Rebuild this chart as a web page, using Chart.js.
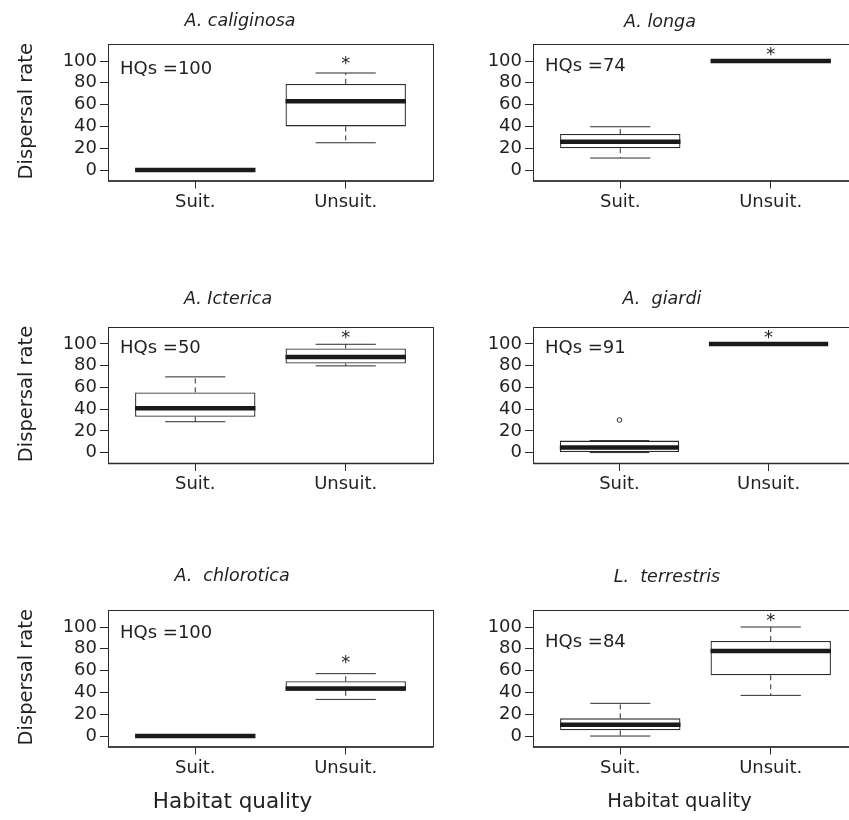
<!DOCTYPE html>
<html>
<head>
<meta charset="utf-8">
<script src="https://cdn.jsdelivr.net/npm/chart.js@4"></script>
<style>
  html, body { margin: 0; padding: 0; background: #fff; overflow: hidden; width: 849px; height: 820px; }
  canvas { position: absolute; }
</style>
</head>
<body>
<script>
// ---- data ----
const species = ["A. caliginosa", "A. longa", "A. Icterica", "A.  giardi", "A.  chlorotica", "L.  terrestris"];
const categories = ["Suit.", "Unsuit."];
const yTicks = [0, 20, 40, 60, 80, 100];
const hqs = [100, 74, 50, 91, 100, 84];
// per panel: [Suit., Unsuit.]
const lowWhisker  = [[0, 25], [11, 100], [28.4, 79.8], [0, 100], [0, 33.6], [0, 37.3]];
const lowerQ      = [[0, 40], [20, 100], [33, 82],     [0, 100], [0, 41.5], [5.2, 55.7]];
const median      = [[0, 63], [26, 100], [40.7, 88],   [4.6, 100], [0, 43.5], [10.4, 78]];
const upperQ      = [[0, 79], [33, 100], [55.4, 95.8], [11, 100], [0, 50.2], [16.2, 87.2]];
const highWhisker = [[0, 89], [39.7, 100], [69.7, 99.7], [11, 100], [0, 57.2], [30, 100]];
const outliers    = [[[], []], [[], []], [[], []], [[30], []], [[], []], [[], []]];
const starY = [100.2, 108, 108.3, 108.3, 69.3, 108.4];
const hqsY  = [93, 95.7, 97.2, 96.7, 94.7, 86.5];

// ---- layout ----
const rowTop = [0, 275, 550], rowHeight = [275, 275, 270];
const areaTop = [44, 327, 610], areaBottom = [180.5, 463, 746.5];
const colLeft = [0, 440], colWidth = [440, 420];
const areaLeft = [108, 533], areaRight = [433, 858];
const titleX = [240, 660, 228, 662, 232, 667];
const titleY = [21, 22, 299.5, 299.5, 576, 577];
const xTitleX = [232.5, 679.5], xTitleSize = [21.5, 19.5];
const yAxisW = 60, xAxisH = 40;
const ink = "#231f20", lineCol = "#2b2b2b";

Chart.defaults.font.family = "'DejaVu Sans', sans-serif";
Chart.defaults.color = ink;

function panelPlugin(p, row, col) {
  return {
    id: "panel" + p,
    afterDatasetsDraw(chart) {
      const ctx = chart.ctx, xs = chart.scales.x, ys = chart.scales.y;
      const half = (xs.getPixelForValue(1.4) - xs.getPixelForValue(1));
      ctx.save();
      for (let i = 0; i < categories.length; i++) {
        const x = xs.getPixelForValue(i + 1);
        const yq1 = ys.getPixelForValue(lowerQ[p][i]), yq3 = ys.getPixelForValue(upperQ[p][i]);
        const ylo = ys.getPixelForValue(lowWhisker[p][i]), yhi = ys.getPixelForValue(highWhisker[p][i]);
        // whiskers (dashed)
        ctx.strokeStyle = lineCol;
        ctx.lineWidth = 1;
        ctx.setLineDash([5, 4]);
        ctx.beginPath();
        ctx.moveTo(x, yq3); ctx.lineTo(x, yhi);
        ctx.moveTo(x, yq1); ctx.lineTo(x, ylo);
        ctx.stroke();
        ctx.setLineDash([]);
        // staples
        ctx.beginPath();
        ctx.moveTo(x - half / 2, yhi); ctx.lineTo(x + half / 2, yhi);
        ctx.moveTo(x - half / 2, ylo); ctx.lineTo(x + half / 2, ylo);
        ctx.stroke();
        // median
        const ym = ys.getPixelForValue(median[p][i]);
        ctx.strokeStyle = "#1a1a1a";
        ctx.lineWidth = 4.5;
        ctx.beginPath();
        ctx.moveTo(x - half, ym); ctx.lineTo(x + half, ym);
        ctx.stroke();
      }
      // significance star
      ctx.fillStyle = ink;
      ctx.font = "18px 'DejaVu Sans'";
      ctx.textAlign = "center";
      ctx.textBaseline = "alphabetic";
      ctx.fillText("*", xs.getPixelForValue(2), ys.getPixelForValue(starY[p]) + 8);
      // HQs label
      ctx.textAlign = "left";
      ctx.textBaseline = "middle";
      ctx.fillText("HQs =" + hqs[p], xs.getPixelForValue(0.5), ys.getPixelForValue(hqsY[p]) + 1);
      ctx.restore();
    },
    afterDraw(chart) {
      const ctx = chart.ctx, a = chart.chartArea;
      ctx.save();
      ctx.strokeStyle = lineCol;
      ctx.lineWidth = 1;
      ctx.strokeRect(a.left + 0.5, a.top + 0.5, a.right - a.left, a.bottom - a.top);
      ctx.lineWidth = 1.5;
      ctx.beginPath();
      ctx.moveTo(a.left, a.bottom + 0.5); ctx.lineTo(a.right, a.bottom + 0.5);
      ctx.stroke();
      // panel title
      ctx.fillStyle = ink;
      ctx.textBaseline = "middle";
      ctx.textAlign = "center";
      ctx.font = "oblique 17.5px 'DejaVu Sans'";
      ctx.fillText(species[p], titleX[p] - colLeft[col], titleY[p] - rowTop[row]);
      // y axis title (left column)
      if (col === 0) {
        ctx.save();
        ctx.font = "19.5px 'DejaVu Sans'";
        ctx.translate(31.5 - colLeft[col], (a.top + a.bottom) / 2 - 1);
        ctx.rotate(-Math.PI / 2);
        ctx.textBaseline = "alphabetic";
        ctx.fillText("Dispersal rate", 0, 0);
        ctx.restore();
      }
      // x axis title (bottom row)
      if (row === 2) {
        ctx.font = xTitleSize[col] + "px 'DejaVu Sans'";
        ctx.fillText("Habitat quality", xTitleX[col] - colLeft[col], 802 - rowTop[row]);
      }
      ctx.restore();
    }
  };
}

for (let p = 0; p < species.length; p++) {
  const row = Math.floor(p / 2), col = p % 2;
  const canvas = document.createElement("canvas");
  canvas.width = colWidth[col];
  canvas.height = rowHeight[row];
  canvas.style.left = colLeft[col] + "px";
  canvas.style.top = rowTop[row] + "px";
  canvas.style.width = colWidth[col] + "px";
  canvas.style.height = rowHeight[row] + "px";
  document.body.appendChild(canvas);

  const outlierPts = [];
  outliers[p].forEach((vals, i) => vals.forEach(v => outlierPts.push({ x: i + 1, y: v })));

  new Chart(canvas, {
    type: "bar",
    data: {
      datasets: [{
        type: "bar",
        data: categories.map((c, i) => ({ x: i + 1, y: [lowerQ[p][i], upperQ[p][i]] })),
        backgroundColor: "#fff",
        borderColor: lineCol,
        borderWidth: 1.3,
        borderSkipped: false,
        barPercentage: 0.8,
        categoryPercentage: 1
      }, {
        type: "scatter",
        data: outlierPts,
        pointRadius: 2.3,
        pointBackgroundColor: "#fff",
        pointBorderColor: "#222",
        pointBorderWidth: 1
      }]
    },
    options: {
      responsive: false,
      animation: false,
      devicePixelRatio: 1,
      layout: {
        padding: {
          left: areaLeft[col] - colLeft[col] - yAxisW,
          right: colLeft[col] + colWidth[col] - areaRight[col],
          top: areaTop[row] - rowTop[row],
          bottom: rowTop[row] + rowHeight[row] - areaBottom[row] - xAxisH
        }
      },
      plugins: { legend: { display: false }, tooltip: { enabled: false }, title: { display: false } },
      scales: {
        x: {
          type: "linear",
          offset: false,
          min: 0.42, max: 2.58,
          afterBuildTicks: s => { s.ticks = categories.map((c, i) => ({ value: i + 1 })); },
          afterFit: s => { s.height = xAxisH; },
          ticks: { callback: v => categories[v - 1], font: { size: 18 }, padding: 3, maxRotation: 0, autoSkip: false },
          grid: { offset: false, drawOnChartArea: false, drawTicks: true, tickLength: 8, tickColor: lineCol },
          border: { display: false }
        },
        y: {
          min: -9.6, max: 115.6,
          afterBuildTicks: s => { s.ticks = yTicks.map(v => ({ value: v })); },
          afterFit: s => { s.width = yAxisW; },
          ticks: { font: { size: 18 }, padding: 3 },
          grid: { drawOnChartArea: false, drawTicks: true, tickLength: 8, tickColor: lineCol },
          border: { display: false }
        }
      }
    },
    plugins: [panelPlugin(p, row, col)]
  });
}
</script>
</body>
</html>
